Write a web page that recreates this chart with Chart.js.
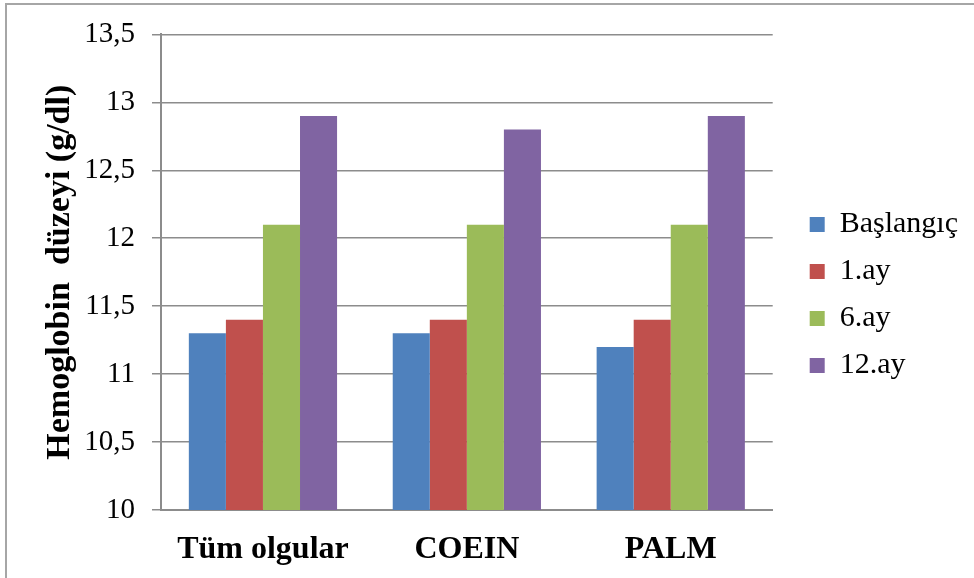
<!DOCTYPE html>
<html>
<head>
<meta charset="utf-8">
<script src="https://cdn.jsdelivr.net/npm/chart.js@4"></script>
<style>
  html, body { margin: 0; padding: 0; background: #fff; overflow: hidden; }
  #wrap { position: relative; width: 974px; height: 578px; }
  #frame { position: absolute; left: 5px; top: 3px; width: 1100px; height: 700px; border: 2px solid #a6a6a6; }
  #chart { position: absolute; left: 0; top: 0; }
</style>
</head>
<body>
<div id="wrap">
  <div id="frame"></div>
  <canvas id="chart" width="974" height="578"></canvas>
</div>
<script>
var categories = ["Tüm olgular", "COEIN", "PALM"];
var seriesNames = ["Başlangıç", "1.ay", "6.ay", "12.ay"];
var baslangic = [11.3, 11.3, 11.2];
var ay1 = [11.4, 11.4, 11.4];
var ay6 = [12.1, 12.1, 12.1];
var ay12 = [12.9, 12.8, 12.9];
var colors = ["#4F81BD", "#C0504D", "#9BBB59", "#8064A2"];
var yTitle = "Hemoglobin  düzeyi (g/dl)";

var serif = "'Liberation Serif', 'Times New Roman', serif";
var gridColor = "#8c8c8c";

// legend sits a bit away from the plot and slightly higher, like the original
var legendShift = {
    id: "legendShift",
    afterLayout: chart => {
        var lg = chart.legend;
        var w = lg.width;
        lg.left = chart.chartArea.right + 20;
        lg.right = lg.left + w;
        lg.top -= 10;
        lg.bottom -= 10;
    }
};

var seriesData = [baslangic, ay1, ay6, ay12];
var ctx = document.getElementById("chart").getContext("2d");
var chart = new Chart(ctx, {
    type: "bar",
    data: {
        labels: categories,
        datasets: seriesNames.map((name, i) => ({
            label: name,
            data: seriesData[i],
            backgroundColor: colors[i],
            borderWidth: 0,
            barPercentage: 1,
            categoryPercentage: 0.727
        }))
    },
    options: {
        responsive: false,
        animation: false,
        layout: { padding: { left: 40, top: 32, right: 26, bottom: 0 } },
        plugins: {
            tooltip: { enabled: false },
            legend: {
                position: "right",
                labels: {
                    boxWidth: 15,
                    boxHeight: 15,
                    padding: 17,
                    color: "#000",
                    font: { family: serif, size: 30 }
                }
            }
        },
        scales: {
            x: {
                afterFit: s => { s.height = 68; },
                grid: { display: false, drawTicks: false },
                border: { display: true, color: gridColor, width: 2 },
                ticks: {
                    padding: 21,
                    maxRotation: 0,
                    minRotation: 0,
                    color: "#000",
                    font: { family: serif, size: 32, weight: "bold" }
                }
            },
            y: {
                min: 10,
                max: 13.5,
                afterFit: s => { s.width = 121; },
                grid: { color: gridColor, lineWidth: 1.5, tickLength: 9 },
                border: { color: gridColor, width: 2 },
                ticks: {
                    stepSize: 0.5,
                    padding: 17,
                    color: "#000",
                    font: { family: serif, size: 29 },
                    callback: v => String(v).replace(".", ",")
                },
                title: {
                    display: true,
                    text: yTitle,
                    color: "#000",
                    padding: 0,
                    font: { family: serif, size: 34, weight: "bold", lineHeight: 1.2 }
                }
            }
        }
    },
    plugins: [legendShift]
});
</script>
</body>
</html>
